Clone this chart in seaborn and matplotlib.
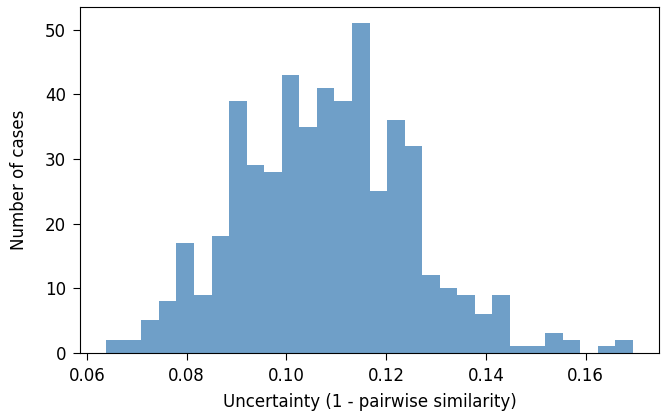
import numpy as np
import pandas as pd
import seaborn as sns
import matplotlib.pyplot as plt

# --- DATA ---
bin_lo = 0.0639
bin_hi = 0.1694
counts = [2, 2, 5, 8, 17, 9, 18, 39, 29, 28,
          43, 35, 41, 39, 51, 25, 36, 32, 12, 10,
          9, 6, 9, 1, 1, 3, 2, 0, 1, 2]

edges = np.linspace(bin_lo, bin_hi, len(counts) + 1)
df = pd.DataFrame({'uncertainty': (edges[:-1] + edges[1:]) / 2, 'n': counts})

plt.rcParams['font.size'] = 12
plt.rcParams['xtick.major.size'] = 5
plt.rcParams['ytick.major.size'] = 5
plt.rcParams['xtick.major.pad'] = 5
plt.rcParams['ytick.major.pad'] = 5
fig = plt.figure(figsize=(6.61, 4.18), dpi=100)
ax = fig.add_axes([80 / 661, (418 - 352.7) / 418, 579 / 661, (352.7 - 7) / 418])

sns.histplot(data=df, x='uncertainty', weights='n', bins=list(edges), ax=ax,
             color='#6f9fc8', alpha=1.0, edgecolor='none', linewidth=0)

ax.set_xticks([0.06, 0.08, 0.10, 0.12, 0.14, 0.16])
ax.set_xticklabels(['0.06', '0.08', '0.10', '0.12', '0.14', '0.16'])
ax.set_yticks([0, 10, 20, 30, 40, 50])
ax.set_xlabel('Uncertainty (1 - pairwise similarity)', labelpad=6)
ax.set_ylabel('Number of cases', labelpad=12)
ax.margins(x=0.05, y=0.05)

fig.savefig('out.png', dpi=100)
